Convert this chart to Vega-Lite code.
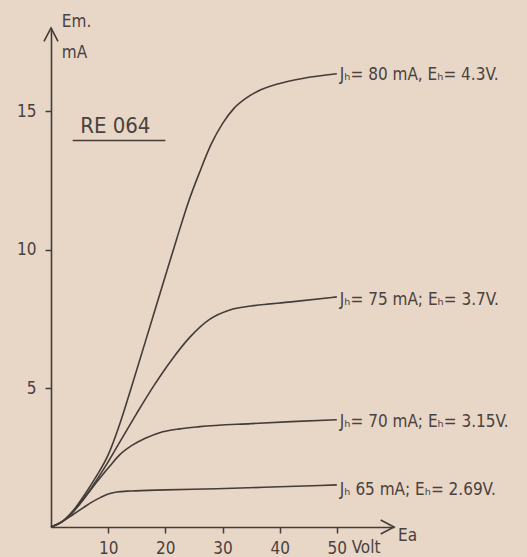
{
  "$schema": "https://vega.github.io/schema/vega-lite/v6.json",
  "width": 343,
  "height": 499,
  "autosize": {"type": "none"},
  "padding": {"left": 51, "top": 28, "right": 133, "bottom": 30},
  "background": "#e8d6c6",
  "config": {
    "view": {"stroke": null},
    "text": {"font": "DejaVu Sans Condensed, DejaVu Sans", "color": "#4a423e"}
  },
  "datasets": {
    "curves": [
      {"series": "80", "V": 0, "I": 0}, {"series": "80", "V": 2, "I": 0.2}, {"series": "80", "V": 4, "I": 0.62}, {"series": "80", "V": 6, "I": 1.2}, {"series": "80", "V": 8, "I": 1.85}, {"series": "80", "V": 10, "I": 2.6}, {"series": "80", "V": 12, "I": 3.7}, {"series": "80", "V": 14, "I": 5.0}, {"series": "80", "V": 18, "I": 7.7}, {"series": "80", "V": 22, "I": 10.4}, {"series": "80", "V": 24, "I": 11.7}, {"series": "80", "V": 26, "I": 12.8}, {"series": "80", "V": 28, "I": 13.8}, {"series": "80", "V": 30, "I": 14.55}, {"series": "80", "V": 32, "I": 15.1}, {"series": "80", "V": 34, "I": 15.45}, {"series": "80", "V": 36, "I": 15.7}, {"series": "80", "V": 40, "I": 16.0}, {"series": "80", "V": 44, "I": 16.18}, {"series": "80", "V": 50, "I": 16.35},
      {"series": "75", "V": 0, "I": 0}, {"series": "75", "V": 2, "I": 0.2}, {"series": "75", "V": 4, "I": 0.58}, {"series": "75", "V": 6, "I": 1.1}, {"series": "75", "V": 8, "I": 1.7}, {"series": "75", "V": 10, "I": 2.35}, {"series": "75", "V": 12, "I": 3.05}, {"series": "75", "V": 15, "I": 4.1}, {"series": "75", "V": 18, "I": 5.1}, {"series": "75", "V": 21, "I": 6.0}, {"series": "75", "V": 24.3, "I": 6.85}, {"series": "75", "V": 27.8, "I": 7.5}, {"series": "75", "V": 31.3, "I": 7.83}, {"series": "75", "V": 35, "I": 7.97}, {"series": "75", "V": 42, "I": 8.12}, {"series": "75", "V": 50, "I": 8.3},
      {"series": "70", "V": 0, "I": 0}, {"series": "70", "V": 2, "I": 0.2}, {"series": "70", "V": 4, "I": 0.58}, {"series": "70", "V": 6, "I": 1.08}, {"series": "70", "V": 8, "I": 1.62}, {"series": "70", "V": 10.3, "I": 2.2}, {"series": "70", "V": 12, "I": 2.6}, {"series": "70", "V": 14.3, "I": 2.96}, {"series": "70", "V": 16.5, "I": 3.2}, {"series": "70", "V": 19, "I": 3.4}, {"series": "70", "V": 22.5, "I": 3.54}, {"series": "70", "V": 26, "I": 3.62}, {"series": "70", "V": 35, "I": 3.73}, {"series": "70", "V": 42, "I": 3.8}, {"series": "70", "V": 50, "I": 3.87},
      {"series": "65", "V": 0, "I": 0}, {"series": "65", "V": 2, "I": 0.2}, {"series": "65", "V": 4, "I": 0.47}, {"series": "65", "V": 5.6, "I": 0.69}, {"series": "65", "V": 7, "I": 0.88}, {"series": "65", "V": 8.6, "I": 1.06}, {"series": "65", "V": 10, "I": 1.19}, {"series": "65", "V": 11.5, "I": 1.26}, {"series": "65", "V": 14, "I": 1.3}, {"series": "65", "V": 20, "I": 1.34}, {"series": "65", "V": 29, "I": 1.38}, {"series": "65", "V": 40, "I": 1.45}, {"series": "65", "V": 50, "I": 1.52}
    ],
    "labels": [
      {"V": 50, "I": 16.3, "label": "Jₕ= 80 mA, Eₕ= 4.3V."},
      {"V": 50, "I": 8.2, "label": "Jₕ= 75 mA; Eₕ= 3.7V."},
      {"V": 50, "I": 3.8, "label": "Jₕ= 70 mA; Eₕ= 3.15V."},
      {"V": 50, "I": 1.35, "label": "Jₕ  65 mA; Eₕ= 2.69V."}
    ],
    "notes": [
      {"V": 1.9, "I": 18.2, "label": "Em."},
      {"V": 1.9, "I": 17.1, "label": "mA"},
      {"V": 60.7, "I": -0.32, "label": "Ea"}
    ],
    "volt": [{"V": 52.6, "I": -0.47, "label": "Volt"}],
    "title": [{"V": 5.1, "I": 14.45, "label": "RE 064"}],
    "underline": [{"V": 3.8, "V2": 20.0, "I": 13.94}],
    "arrowY": [{"V": 0, "I": 18}],
    "arrowX": [{"V": 60, "I": 0}]
  },
  "layer": [
    {
      "data": {"name": "curves"},
      "mark": {"type": "line", "interpolate": "monotone", "color": "#433c39", "strokeWidth": 1.6, "clip": false},
      "encoding": {
        "x": {"field": "V", "type": "quantitative", "scale": {"domain": [0, 60], "nice": false},
          "axis": {"values": [10, 20, 30, 40, 50], "title": null, "grid": false, "domainColor": "#433c39", "domainWidth": 1.6, "tickColor": "#433c39", "tickWidth": 1.5, "tickSize": 6, "labelFontSize": 17, "labelColor": "#4a423e", "labelFont": "DejaVu Sans Condensed, DejaVu Sans", "labelPadding": 7, "labelBaseline": "top"}},
        "y": {"field": "I", "type": "quantitative", "scale": {"domain": [0, 18], "nice": false},
          "axis": {"values": [5, 10, 15], "title": null, "grid": false, "domainColor": "#433c39", "domainWidth": 1.6, "tickColor": "#433c39", "tickWidth": 1.5, "tickSize": 6, "labelFontSize": 17, "labelColor": "#4a423e", "labelFont": "DejaVu Sans Condensed, DejaVu Sans", "labelPadding": 9}},
        "detail": {"field": "series"}
      }
    },
    {
      "data": {"name": "labels"},
      "mark": {"type": "text", "align": "left", "baseline": "middle", "dx": 3, "fontSize": 17, "clip": false},
      "encoding": {
        "x": {"field": "V", "type": "quantitative"},
        "y": {"field": "I", "type": "quantitative"},
        "text": {"field": "label"}
      }
    },
    {
      "data": {"name": "notes"},
      "mark": {"type": "text", "align": "left", "baseline": "middle", "fontSize": 17, "clip": false},
      "encoding": {
        "x": {"field": "V", "type": "quantitative"},
        "y": {"field": "I", "type": "quantitative"},
        "text": {"field": "label"}
      }
    },
    {
      "data": {"name": "volt"},
      "mark": {"type": "text", "align": "left", "baseline": "top", "fontSize": 17, "clip": false},
      "encoding": {
        "x": {"field": "V", "type": "quantitative"},
        "y": {"field": "I", "type": "quantitative"},
        "text": {"field": "label"}
      }
    },
    {
      "data": {"name": "title"},
      "mark": {"type": "text", "align": "left", "baseline": "middle", "fontSize": 22, "clip": false},
      "encoding": {
        "x": {"field": "V", "type": "quantitative"},
        "y": {"field": "I", "type": "quantitative"},
        "text": {"field": "label"}
      }
    },
    {
      "data": {"name": "underline"},
      "mark": {"type": "rule", "color": "#433c39", "strokeWidth": 1.6},
      "encoding": {
        "x": {"field": "V", "type": "quantitative"},
        "x2": {"field": "V2"},
        "y": {"field": "I", "type": "quantitative"}
      }
    },
    {
      "data": {"name": "arrowY"},
      "mark": {"type": "point", "shape": "M-1,1.9L0,0L1,1.9", "size": 196, "filled": false, "stroke": "#433c39", "strokeWidth": 1.6, "opacity": 1, "clip": false},
      "encoding": {
        "x": {"field": "V", "type": "quantitative"},
        "y": {"field": "I", "type": "quantitative"}
      }
    },
    {
      "data": {"name": "arrowX"},
      "mark": {"type": "point", "shape": "M-1.9,-1L0,0L-1.9,1", "size": 196, "filled": false, "stroke": "#433c39", "strokeWidth": 1.6, "opacity": 1, "clip": false},
      "encoding": {
        "x": {"field": "V", "type": "quantitative"},
        "y": {"field": "I", "type": "quantitative"}
      }
    }
  ]
}
